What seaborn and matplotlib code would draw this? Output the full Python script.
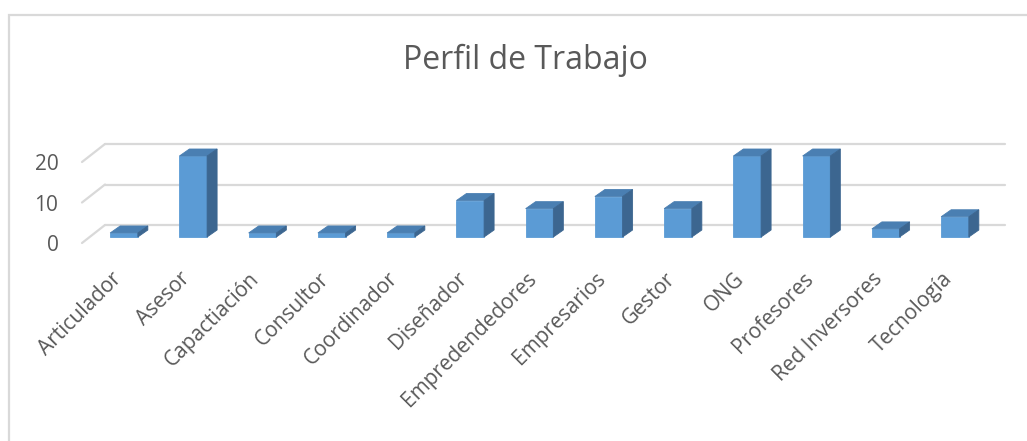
import matplotlib
matplotlib.use("Agg")
import matplotlib.pyplot as plt
import matplotlib.transforms as mtransforms
from matplotlib.patches import Polygon, Rectangle
from matplotlib.lines import Line2D
import seaborn as sns
import pandas as pd

# ---- data ----
categories = ["Articulador", "Asesor", "Capactiación", "Consultor", "Coordinador",
              "Diseñador", "Empredendedores", "Empresarios", "Gestor", "ONG",
              "Profesores", "Red Inversores", "Tecnología"]
values = [1, 20, 1, 1, 1, 9, 7, 10, 7, 20, 20, 2, 5]
y_ticks = [0, 10, 20]
y_tick_labels = ["0", "10", "20"]
title = "Perfil de Trabajo"

# ---- style ----
sns.set_style("white")
plt.rcParams['font.family'] = ['Open Sans', 'DejaVu Sans']
TEXT = "#595959"
FRONT = "#5B9BD5"
TOP = "#4A7FB2"
SIDE = "#3C6690"
GRID = "#D9D9D9"

W, H, DPI = 1027, 441, 100
fig = plt.figure(figsize=(W / DPI, H / DPI), dpi=DPI)
fig.patch.set_facecolor("white")


def px_rect(x0, ytop, x1, ybot):
    return [x0 / W, (H - ybot) / H, (x1 - x0) / W, (ybot - ytop) / H]


# chart border (top & left visible)
fig.add_artist(Rectangle((9 / W, -0.1), 1.2, (H - 15) / H + 0.1, transform=fig.transFigure,
                         fill=False, edgecolor=GRID, lw=1.6))

ax = fig.add_axes(px_rect(82, 140, 982, 243))
df = pd.DataFrame({"cat": categories, "val": values})
sns.barplot(data=df, x="cat", y="val", color=FRONT, saturation=1, width=0.4,
            ax=ax, zorder=3, linewidth=0.6, edgecolor=FRONT)
ax.set_xlim(-0.6065, 12.39)
ax.set_ylim(-1.48, 23.95)
for s in ax.spines.values():
    s.set_visible(False)
ax.set_xlabel("")
ax.set_ylabel("")
ax.patch.set_alpha(0)

# back-wall gridlines with left diagonal
BX, BY = 23, 12
ident = mtransforms.IdentityTransform()
grid_tr = ax.get_yaxis_transform() + mtransforms.ScaledTranslation(BX / DPI, BY / DPI, fig.dpi_scale_trans)
for v in y_ticks:
    ax.add_line(Line2D([0, 1], [v, v], transform=grid_tr, color=GRID, lw=1.6,
                       zorder=0, clip_on=False))
    px, py = ax.get_yaxis_transform().transform((0, v))
    ax.add_line(Line2D([px, px + BX], [py - 6, py + BY], transform=ident, color=GRID,
                       lw=1.6, zorder=0, clip_on=False))

# 3D faces of bars
DX, DY = 10, 7
for p in list(ax.patches):
    x0, w, h = p.get_x(), p.get_width(), p.get_height()
    X0, Y0 = ax.transData.transform((x0, 0))
    X1, Y1 = ax.transData.transform((x0 + w, h))
    top = [(X0, Y1), (X1, Y1), (X1 + DX, Y1 + DY), (X0 + DX, Y1 + DY)]
    side = [(X1, Y0), (X1 + DX, Y0 + DY), (X1 + DX, Y1 + DY), (X1, Y1)]
    ax.add_patch(Polygon(top, closed=True, transform=ident, facecolor=TOP,
                         edgecolor=TOP, lw=0.6, clip_on=False, zorder=3))
    ax.add_patch(Polygon(side, closed=True, transform=ident, facecolor=SIDE,
                         edgecolor=SIDE, lw=0.6, clip_on=False, zorder=3))

# ticks
ax.set_yticks(y_ticks)
ax.set_yticklabels(y_tick_labels)
ax.tick_params(axis='y', length=0, pad=17, labelsize=15, labelcolor=TEXT)
shift = mtransforms.ScaledTranslation(0, -6 / DPI, fig.dpi_scale_trans)
for lbl in ax.get_yticklabels():
    lbl.set_transform(lbl.get_transform() + shift)

ax.set_xticks(range(len(categories)))
ax.set_xticklabels(categories, rotation=45, ha='right', va='center', rotation_mode='anchor')
ax.tick_params(axis='x', length=0, pad=22, labelsize=15, labelcolor=TEXT)
xshift = mtransforms.ScaledTranslation(-6 / DPI, -2 / DPI, fig.dpi_scale_trans)
for lbl in ax.get_xticklabels():
    lbl.set_transform(lbl.get_transform() + xshift)

fig.text(525 / W, 1 - 60 / H, title, ha='center', va='center', fontsize=23, color=TEXT)

fig.savefig("out.png", dpi=DPI)
